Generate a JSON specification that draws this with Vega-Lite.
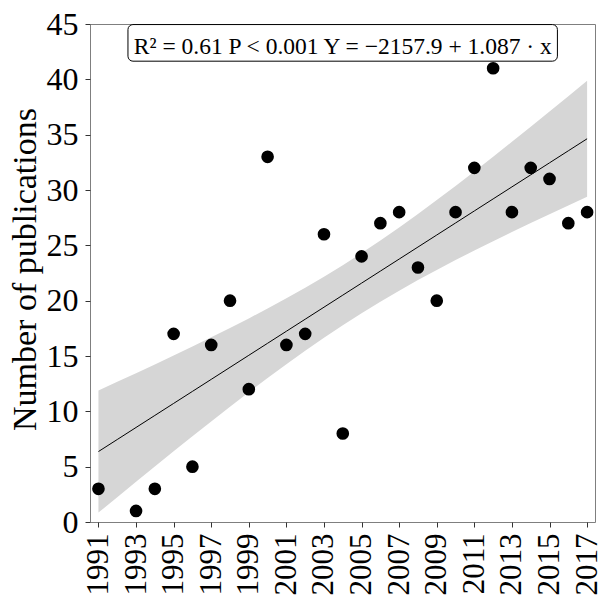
{
  "$schema": "https://vega.github.io/schema/vega-lite/v6.json",
  "width": 505,
  "height": 498,
  "autosize": {"type": "none"},
  "padding": {"left": 90, "top": 24, "right": 6, "bottom": 77},
  "background": "white",
  "config": {
    "view": {"stroke": "#7f7f7f", "strokeWidth": 1},
    "font": "Liberation Serif",
    "text": {"font": "Liberation Serif"},
    "axis": {
      "grid": false,
      "domain": false,
      "tickColor": "#333333",
      "tickSize": 5,
      "labelFont": "Liberation Serif",
      "labelFontSize": 32,
      "labelColor": "black",
      "titleFont": "Liberation Serif",
      "titleFontWeight": "normal",
      "titleColor": "black"
    }
  },
  "datasets": {
    "pts": [
      {"year": 1991, "n": 3}, {"year": 1993, "n": 1}, {"year": 1994, "n": 3},
      {"year": 1995, "n": 17}, {"year": 1996, "n": 5}, {"year": 1997, "n": 16},
      {"year": 1998, "n": 20}, {"year": 1999, "n": 12}, {"year": 2000, "n": 33},
      {"year": 2001, "n": 16}, {"year": 2002, "n": 17}, {"year": 2003, "n": 26},
      {"year": 2004, "n": 8}, {"year": 2005, "n": 24}, {"year": 2006, "n": 27},
      {"year": 2007, "n": 28}, {"year": 2008, "n": 23}, {"year": 2009, "n": 20},
      {"year": 2010, "n": 28}, {"year": 2011, "n": 32}, {"year": 2012, "n": 41},
      {"year": 2013, "n": 28}, {"year": 2014, "n": 32}, {"year": 2015, "n": 31},
      {"year": 2016, "n": 27}, {"year": 2017, "n": 28}
    ],
    "band": [
      {"year": 1991, "fit": 6.367, "lo": 0.848, "hi": 11.886},
      {"year": 1992, "fit": 7.454, "lo": 2.243, "hi": 12.665},
      {"year": 1993, "fit": 8.541, "lo": 3.632, "hi": 13.450},
      {"year": 1994, "fit": 9.628, "lo": 5.013, "hi": 14.243},
      {"year": 1995, "fit": 10.715, "lo": 6.385, "hi": 15.045},
      {"year": 1996, "fit": 11.802, "lo": 7.745, "hi": 15.859},
      {"year": 1997, "fit": 12.889, "lo": 9.091, "hi": 16.687},
      {"year": 1998, "fit": 13.976, "lo": 10.420, "hi": 17.532},
      {"year": 1999, "fit": 15.063, "lo": 11.728, "hi": 18.398},
      {"year": 2000, "fit": 16.150, "lo": 13.010, "hi": 19.290},
      {"year": 2001, "fit": 17.237, "lo": 14.263, "hi": 20.211},
      {"year": 2002, "fit": 18.324, "lo": 15.480, "hi": 21.168},
      {"year": 2003, "fit": 19.411, "lo": 16.657, "hi": 22.165},
      {"year": 2004, "fit": 20.498, "lo": 17.789, "hi": 23.207},
      {"year": 2005, "fit": 21.585, "lo": 18.874, "hi": 24.296},
      {"year": 2006, "fit": 22.672, "lo": 19.912, "hi": 25.432},
      {"year": 2007, "fit": 23.759, "lo": 20.907, "hi": 26.611},
      {"year": 2008, "fit": 24.846, "lo": 21.860, "hi": 27.832},
      {"year": 2009, "fit": 25.933, "lo": 22.779, "hi": 29.087},
      {"year": 2010, "fit": 27.020, "lo": 23.668, "hi": 30.372},
      {"year": 2011, "fit": 28.107, "lo": 24.533, "hi": 31.681},
      {"year": 2012, "fit": 29.194, "lo": 25.376, "hi": 33.012},
      {"year": 2013, "fit": 30.281, "lo": 26.203, "hi": 34.359},
      {"year": 2014, "fit": 31.368, "lo": 27.016, "hi": 35.720},
      {"year": 2015, "fit": 32.455, "lo": 27.818, "hi": 37.092},
      {"year": 2016, "fit": 33.542, "lo": 28.610, "hi": 38.474},
      {"year": 2017, "fit": 34.629, "lo": 29.395, "hi": 39.863}
    ]
  },
  "layer": [
    {
      "data": {"name": "band"},
      "mark": {"type": "area", "color": "#d6d6d6", "opacity": 1},
      "encoding": {
        "x": {
          "field": "year", "type": "quantitative",
          "scale": {"domain": [1990.55, 2017.42], "nice": false, "zero": false},
          "axis": {
            "title": null,
            "values": [1991, 1993, 1995, 1997, 1999, 2001, 2003, 2005, 2007, 2009, 2011, 2013, 2015, 2017],
            "tickCount": 40,
            "format": "d",
            "labelFont": "Liberation Serif",
            "labelFontSize": 31,
            "labelAngle": -90,
            "labelPadding": 6,
            "labelAlign": "right",
            "labelBaseline": "middle",
            "labelFlush": false,
            "labelOverlap": false
          }
        },
        "y": {
          "field": "lo", "type": "quantitative",
          "scale": {"domain": [0, 45], "nice": false},
          "axis": {
            "title": "Number of publications",
            "values": [0, 5, 10, 15, 20, 25, 30, 35, 40, 45],
            "tickCount": 40,
            "labelFont": "Liberation Serif",
            "labelFontSize": 32,
            "labelPadding": 7,
            "labelFlush": false,
            "labelOverlap": false,
            "titleFont": "Liberation Serif",
            "titleFontSize": 34,
            "titleAngle": -90,
            "titleBaseline": "alphabetic",
            "titleAlign": "center",
            "titleX": -55,
            "titleY": 245
          }
        },
        "y2": {"field": "hi"}
      }
    },
    {
      "data": {"name": "band"},
      "mark": {"type": "line", "color": "black", "strokeWidth": 1},
      "encoding": {
        "x": {"field": "year", "type": "quantitative"},
        "y": {"field": "fit", "type": "quantitative"}
      }
    },
    {
      "data": {"name": "pts"},
      "mark": {"type": "circle", "color": "black", "opacity": 1, "size": 160},
      "encoding": {
        "x": {"field": "year", "type": "quantitative"},
        "y": {"field": "n", "type": "quantitative"}
      }
    },
    {
      "data": {"values": [{}]},
      "mark": {"type": "rect", "fill": "white", "stroke": "black", "strokeWidth": 1, "cornerRadius": 5},
      "encoding": {
        "x": {"datum": 1992.57, "type": "quantitative"},
        "x2": {"datum": 2015.42},
        "y": {"datum": 41.64, "type": "quantitative"},
        "y2": {"datum": 44.95}
      }
    },
    {
      "data": {"values": [{"label": "R² = 0.61 P < 0.001 Y = −2157.9 + 1.087 · x"}]},
      "mark": {"type": "text", "font": "Liberation Serif", "fontSize": 23.5, "color": "black", "align": "center", "baseline": "alphabetic"},
      "encoding": {
        "x": {"datum": 2004.0, "type": "quantitative"},
        "y": {"datum": 42.33, "type": "quantitative"},
        "text": {"field": "label"}
      }
    }
  ]
}
